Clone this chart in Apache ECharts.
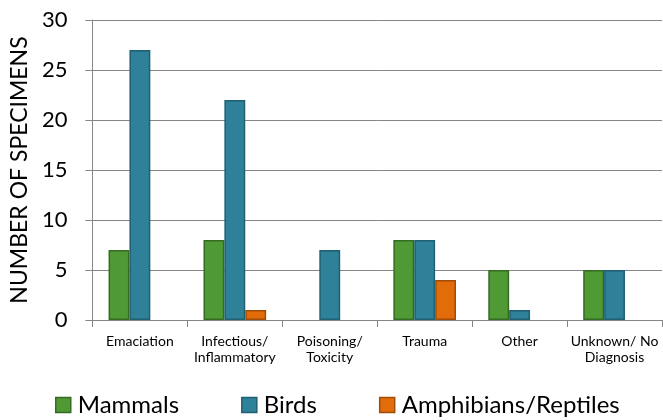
<!DOCTYPE html>
<html>
<head>
<meta charset="utf-8">
<script src="https://cdn.jsdelivr.net/npm/echarts@6/dist/echarts.min.js"></script>
<style>
    html, body { margin: 0; padding: 0; background: #fff; }
    #chart { width: 663px; height: 420px; }
</style>
</head>
<body>
<div id="chart"></div>
<script>
    var categories = ['Emaciation', 'Infectious/\nInflammatory', 'Poisoning/\nToxicity', 'Trauma', 'Other', 'Unknown/ No\nDiagnosis'];
    var mammals = [7, 8, 0, 8, 5, 5];
    var birds = [27, 22, 7, 8, 1, 5];
    var amphibians = [0, 1, 0, 4, 0, 0];
    var yTicks = [0, 5, 10, 15, 20, 25, 30];

    var font = 'Lato, "Open Sans", sans-serif';

    function barSeries(name, data, fill, edge) {
        return {
            name: name,
            type: 'bar',
            data: data.map(function (v) { return v === 0 ? null : v; }),
            barGap: 0,
            barCategoryGap: '34%',
            itemStyle: {
                color: fill,
                borderColor: edge,
                borderWidth: 1.5
            }
        };
    }

    var chart = echarts.init(document.getElementById('chart'));
    chart.setOption({
        animation: false,
        textStyle: { fontFamily: font },
        grid: { left: 92, right: 1, top: 20, bottom: 100, containLabel: false },
        legend: {
            left: 50,
            top: 388,
            itemWidth: 15,
            itemHeight: 15,
            itemGap: 62,
            icon: 'rect',
            itemStyle: { borderWidth: 1.5 },
            textStyle: { fontSize: 24, color: '#000', fontFamily: font, padding: [0, 0, 0, 2] },
            data: ['Mammals', 'Birds', 'Amphibians/Reptiles']
        },
        xAxis: {
            type: 'category',
            data: categories,
            axisLine: { lineStyle: { color: '#868686', width: 1 } },
            axisTick: { show: true, length: 7, lineStyle: { color: '#868686' } },
            axisLabel: { fontSize: 14, color: '#000', lineHeight: 16, margin: 13, interval: 0 }
        },
        yAxis: {
            type: 'value',
            min: yTicks[0],
            max: yTicks[yTicks.length - 1],
            interval: 5,
            name: 'NUMBER OF SPECIMENS',
            nameLocation: 'middle',
            nameGap: 56,
            nameTextStyle: { fontSize: 23, color: '#000' },
            axisLine: { show: true, lineStyle: { color: '#868686' } },
            axisTick: { show: true, length: 7, lineStyle: { color: '#868686' } },
            axisLabel: { fontSize: 22, color: '#000', margin: 25 },
            splitLine: { lineStyle: { color: '#868686', width: 1 } }
        },
        series: [
            barSeries('Mammals', mammals, '#4f9a34', '#356b22'),
            barSeries('Birds', birds, '#2e8199', '#1f6073'),
            barSeries('Amphibians/Reptiles', amphibians, '#e36c0a', '#a14d06')
        ]
    });
</script>
</body>
</html>
